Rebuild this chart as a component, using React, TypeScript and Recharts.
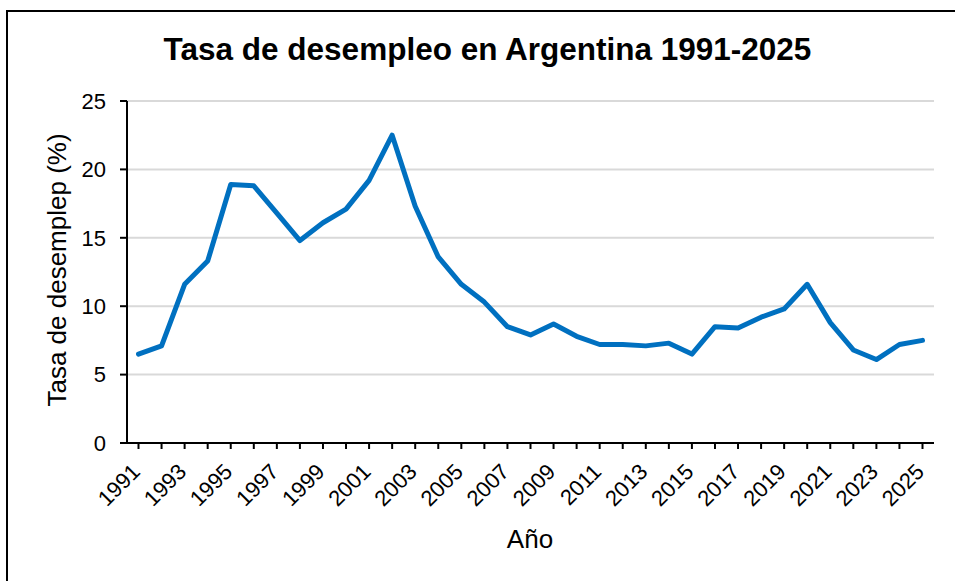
import React from 'react';
import { LineChart, Line, XAxis, YAxis, CartesianGrid } from 'recharts';

const years = ['1991','1992','1993','1994','1995','1996','1997','1998','1999','2000','2001','2002','2003','2004','2005','2006','2007','2008','2009','2010','2011','2012','2013','2014','2015','2016','2017','2018','2019','2020','2021','2022','2023','2024','2025'];
const rates = [6.5, 7.1, 11.6, 13.3, 18.9, 18.8, 16.8, 14.8, 16.1, 17.1, 19.2, 22.5, 17.3, 13.6, 11.6, 10.3, 8.5, 7.9, 8.7, 7.8, 7.2, 7.2, 7.1, 7.3, 6.5, 8.5, 8.4, 9.2, 9.8, 11.6, 8.8, 6.8, 6.1, 7.2, 7.5];
const yTicks = [0, 5, 10, 15, 20, 25];
const xTickLabels = ['1991','1993','1995','1997','1999','2001','2003','2005','2007','2009','2011','2013','2015','2017','2019','2021','2023','2025'];

const title = 'Tasa de desempleo en Argentina 1991-2025';
const yTitle = 'Tasa de desemplep (%)';
const xTitle = 'Año';

const data = years.map((y, i) => ({ year: y, rate: rates[i] }));
const FONT = 'Arial, "Liberation Sans", Helvetica, sans-serif';

const XTick = (props: any) => {
  const { x, y, payload } = props;
  if (!xTickLabels.includes(payload.value)) return <g />;
  return (
    <g transform={`translate(${x + 3},${y + 22}) rotate(-45)`}>
      <text x={0} y={0} textAnchor="end" fontSize={22} fontFamily={FONT} fill="#000">
        {payload.value}
      </text>
    </g>
  );
};

export default function App() {
  return (
    <div style={{ position: 'fixed', left: 0, top: 0, width: 955, height: 581, background: '#fff', overflow: 'hidden' }}>
      <div style={{ position: 'absolute', left: 6, top: 10, width: 1000, height: 1000, border: '2px solid #000' }} />
      <div style={{ position: 'absolute', left: 0, top: 31, width: 975, lineHeight: '36px', textAlign: 'center', fontFamily: FONT, fontWeight: 'bold', fontSize: 31.5, color: '#000' }}>
        {title}
      </div>
      <div style={{ position: 'absolute', left: 57 - 200, top: 270 - 20, width: 400, height: 40, lineHeight: '40px', textAlign: 'center', fontFamily: FONT, fontSize: 26, color: '#000', transform: 'rotate(-90deg)' }}>
        {yTitle}
      </div>
      <div style={{ position: 'absolute', left: 330, top: 524, width: 400, lineHeight: '30px', textAlign: 'center', fontFamily: FONT, fontSize: 26, color: '#000' }}>
        {xTitle}
      </div>
      <div style={{ position: 'absolute', left: 0, top: 0 }}>
        <LineChart width={955} height={581} data={data} margin={{ top: 101, right: 21, left: 67, bottom: 58 }}>
          <CartesianGrid vertical={false} stroke="#d9d9d9" strokeWidth={2} />
          <XAxis
            dataKey="year"
            interval={0}
            height={80}
            padding={{ left: 11.5, right: 11.5 }}
            axisLine={{ stroke: '#000', strokeWidth: 2 }}
            tickLine={{ stroke: '#000', strokeWidth: 2 }}
            tickSize={6}
            tick={<XTick />}
          />
          <YAxis
            width={60}
            domain={[0, 25]}
            ticks={yTicks}
            axisLine={{ stroke: '#000', strokeWidth: 2 }}
            tickLine={{ stroke: '#000', strokeWidth: 2 }}
            tickSize={7}
            tickMargin={14}
            tick={{ fill: '#000', fontSize: 22, fontFamily: FONT }}
          />
          <Line
            type="linear"
            dataKey="rate"
            stroke="#0070C0"
            strokeWidth={5}
            dot={false}
            strokeLinecap="round"
            strokeLinejoin="round"
            isAnimationActive={false}
          />
        </LineChart>
      </div>
    </div>
  );
}
